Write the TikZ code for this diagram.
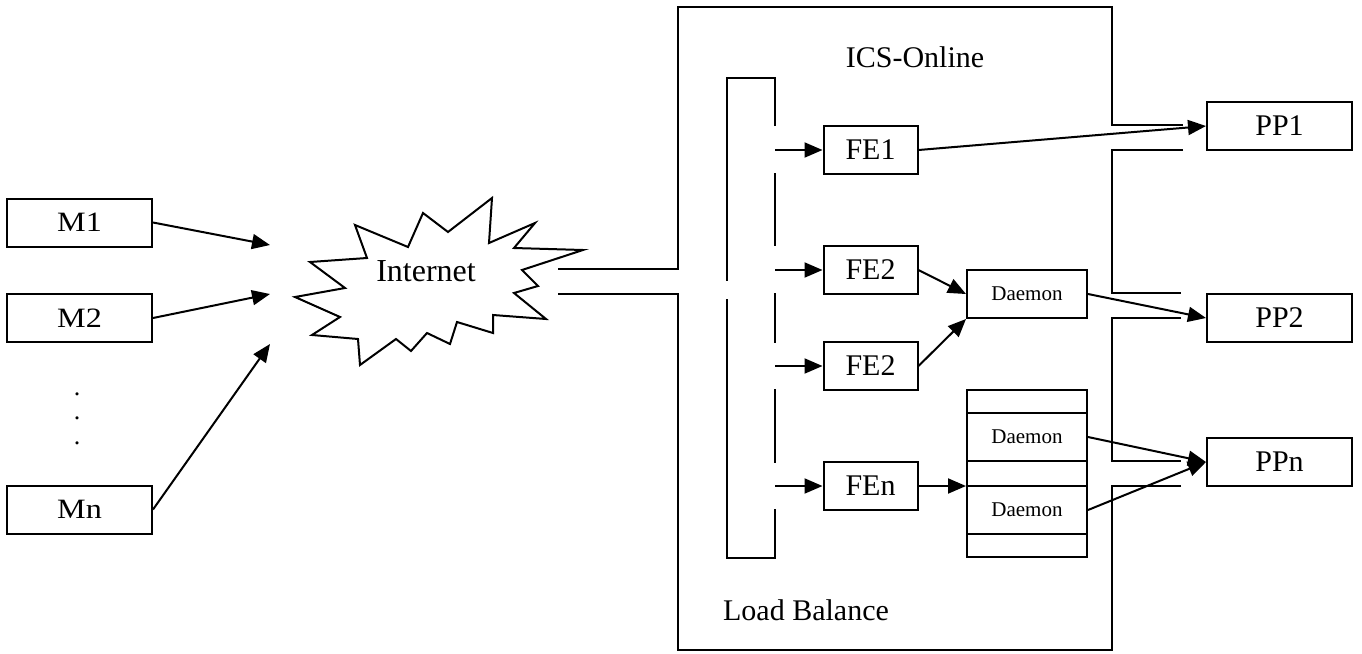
\documentclass[tikz,border=0pt]{standalone}
\usepackage{fontspec}
\setmainfont{Liberation Serif}
\newfontfamily\widefont[FakeStretch=1.15]{Liberation Serif}
\usetikzlibrary{positioning}
\usetikzlibrary{arrows.meta}

\begin{document}
\begin{tikzpicture}[x=0.5pt, y=-0.5pt, line width=1pt,
		block/.style={rectangle, draw=black, line width=1pt, minimum width=72.5pt, minimum height=24pt, inner sep=0pt, font=\fontsize{15}{18}\selectfont},
		mbox/.style={block, font=\widefont\fontsize{14}{17}\selectfont},
		febox/.style={block, minimum width=47pt},
		daemon/.style={block, minimum width=60pt, font=\fontsize{10.5}{12}\selectfont},
		label/.style={inner sep=0pt, font=\fontsize{15}{18}\selectfont},
		arrow/.style={-{Triangle[length=9pt,width=7.5pt]}, line width=1pt}
	]
		\useasboundingbox (0,0) rectangle (1362,654);

		\node[mbox] (m1) at (79.5,222.5) {M1};
		\node[mbox] (m2) at (79.5,318) {M2};
		\node[mbox] (mn) at (79.5,509.5) {Mn};
		\foreach \y [count=\i] in {394,418,443}
			\node[inner sep=0pt, font=\fontsize{13}{15}\selectfont] (dot\i) at (77,\y) {.};

		\draw (295,297) -- (345,288) -- (310,262) -- (367,258) -- (355,225) -- (408,247) -- (423,213)
			-- (448,232) -- (492,198) -- (489,243) -- (535,223) -- (514,248) -- (583,250) -- (522,270)
			-- (538,286) -- (514,293) -- (546,319) -- (493,315) -- (493,333) -- (457,322) -- (450,344)
			-- (427,333) -- (411,351) -- (396,339) -- (360,365) -- (358,339) -- (312,335) -- (340,317) -- cycle;
		\node[label, font=\fontsize{16}{19}\selectfont] (inet) at (426,271) {Internet};

		\coordinate (in1) at (270,245);
		\coordinate (in2) at (270,294);
		\coordinate (in3) at (270,344);
		\draw[arrow] (m1.east) -- (in1);
		\draw[arrow] (m2.east) -- (in2);
		\draw[arrow] (mn.east) -- (in3);

		\draw (558,269) -- (678,269) -- (678,7) -- (1112,7) -- (1112,125) -- (1183,125);
		\draw (1183,150) -- (1112,150) -- (1112,293) -- (1181,293);
		\draw (1181,318) -- (1112,318) -- (1112,461) -- (1181,461);
		\draw (1181,486) -- (1112,486) -- (1112,650) -- (678,650) -- (678,294) -- (558,294);
		\node[label] (title) at (915,57) {ICS-Online};
		\node[label] (lb) at (806,610) {Load Balance};

		\draw (775,126) -- (775,78) -- (727,78) -- (727,281);
		\draw (727,299) -- (727,558) -- (775,558) -- (775,509);
		\draw (775,173) -- (775,246);
		\draw (775,293) -- (775,343);
		\draw (775,389) -- (775,463);

		\node[febox] (fe1) at (870.5,150) {FE1};
		\node[febox] (fe2) at (870.5,270) {FE2};
		\node[febox] (fe3) at (870.5,366) {FE2};
		\node[febox] (fen) at (870.5,486) {FEn};
		\coordinate (t1) at (775,150);
		\coordinate (t2) at (775,270);
		\coordinate (t3) at (775,366);
		\coordinate (t4) at (775,486);
		\draw[arrow] (t1) -- (fe1.west);
		\draw[arrow] (t2) -- (fe2.west);
		\draw[arrow] (t3) -- (fe3.west);
		\draw[arrow] (t4) -- (fen.west);

		\node[daemon] (d1) at (1027,294) {Daemon};
		\node[draw, line width=1pt, minimum width=60pt, minimum height=83.5pt, inner sep=0pt] (stack) at (1027,473.5) {};
		\node[daemon] (d2) at (1027,437) {Daemon};
		\node[daemon] (d3) at (1027,510) {Daemon};

		\node[block] (pp1) at (1279.5,126) {PP1};
		\node[block] (pp2) at (1279.5,318) {PP2};
		\node[block] (ppn) at (1279.5,462) {PPn};

		\draw[arrow] (fe1.east) -- (pp1.west);
		\draw[arrow] (fe2.east) -- (d1.west);
		\draw[arrow] (fe3.east) -- (d1.south west);
		\draw[arrow] (fen.east) -- (fen.east -| d3.west);
		\draw[arrow] (d1.east) -- (pp2.west);
		\draw[arrow] (d2.east) -- (ppn.west);
		\draw[arrow] (d3.east) -- (ppn.west);
	\end{tikzpicture}
\end{document}
